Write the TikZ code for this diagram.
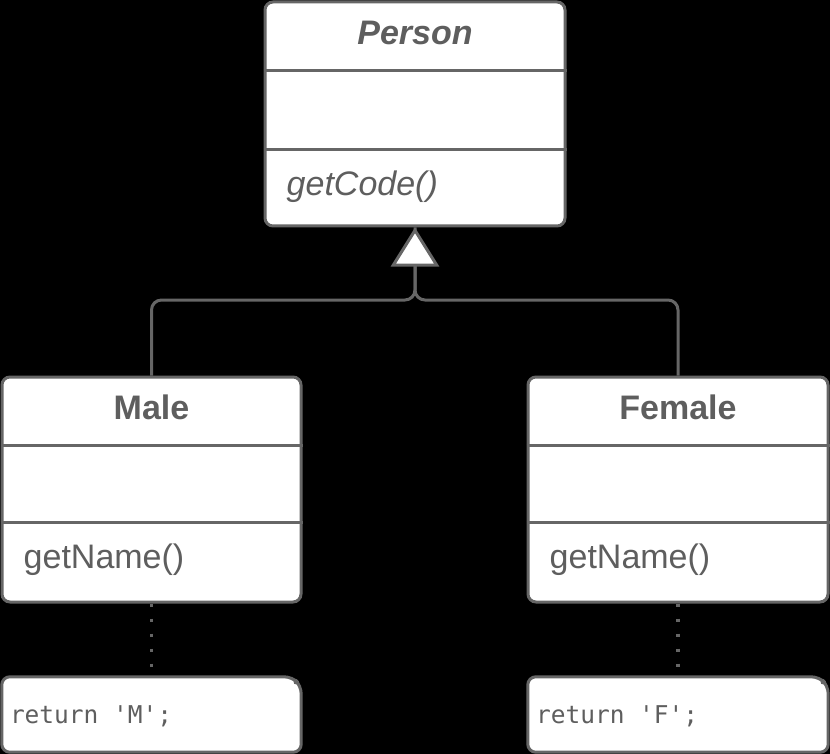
\documentclass[tikz,border=0pt]{standalone}
\usepackage{fontspec}
\setmainfont{Liberation Sans}
\setmonofont{DejaVu Sans Mono}
\usepackage{tikz}
\usetikzlibrary{arrows.meta}
\definecolor{umlgray}{HTML}{666666}
\definecolor{umltext}{HTML}{5E5E5E}

\begin{document}
\begin{tikzpicture}[x=1pt,y=-1pt]
\tikzstyle{every node}+=[inner sep=0pt]
\tikzstyle{classbox}=[draw=umlgray, line width=3pt, fill=white, rounded corners=8pt]
\tikzstyle{divider}=[draw=umlgray, line width=3pt]
\tikzstyle{umltxt}=[text=umltext, font=\fontsize{34}{40}\selectfont]
\tikzstyle{codetxt}=[text=umltext, font=\ttfamily\fontsize{24.5}{28}\selectfont]
\tikzstyle{generalize}=[draw=umlgray, line width=3pt, rounded corners=10pt]
\tikzstyle{implnote}=[draw=umlgray, line width=3.5pt, dash pattern=on 3.5pt off 11.5pt]
\fill [black] (0,0) rectangle (830,754);
\useasboundingbox (0,0) rectangle (830,754);
\node [classbox, minimum width=300, minimum height=224] (person) at (415,114) {};
\draw [divider] ([yshift=-70pt]person.north west) -- ([yshift=-70pt]person.north east);
\draw [divider] ([yshift=-149pt]person.north west) -- ([yshift=-149pt]person.north east);
\node [umltxt, font=\fontsize{34}{40}\selectfont\bfseries\itshape] (persontitle) at ([yshift=-32pt]person.north) {Person};
\node [umltxt, font=\fontsize{34}{40}\selectfont\itshape, anchor=west] (getcode) at ([xshift=23pt,yshift=-186pt]person.north west) {getCode()};
\node [classbox, minimum width=299, minimum height=225] (male) at (151.5,489.5) {};
\draw [divider] ([yshift=-70pt]male.north west) -- ([yshift=-70pt]male.north east);
\draw [divider] ([yshift=-147pt]male.north west) -- ([yshift=-147pt]male.north east);
\node [umltxt, font=\fontsize{34}{40}\selectfont\bfseries] (maletitle) at ([yshift=-32pt]male.north) {Male};
\node [umltxt, anchor=west] (malename) at ([xshift=23pt,yshift=-184pt]male.north west) {getName()};
\node [classbox, minimum width=300, minimum height=225] (female) at (678,489.5) {};
\draw [divider] ([yshift=-70pt]female.north west) -- ([yshift=-70pt]female.north east);
\draw [divider] ([yshift=-147pt]female.north west) -- ([yshift=-147pt]female.north east);
\node [umltxt, font=\fontsize{34}{40}\selectfont\bfseries] (femaletitle) at ([yshift=-32pt]female.north) {Female};
\node [umltxt, anchor=west] (femalename) at ([xshift=23pt,yshift=-184pt]female.north west) {getName()};
\coordinate (split) at (415,300);
\draw [generalize] (female.north) |- (split) -- (person.south);
\draw [generalize, -{Triangle[length=39pt, width=48pt, fill=white]}] (male.north) |- (split) -- (person.south);
\node [minimum width=299, minimum height=75] (malenote) at (151.5,714.5) {};
\draw [classbox] (malenote.south west) -- (malenote.north west) -- ([xshift=-9pt]malenote.north east) -- ([yshift=-9pt]malenote.north east) -- (malenote.south east) -- cycle;
\fill [umlgray] ([xshift=-9pt]malenote.north east) -- ([xshift=-7pt,yshift=-7pt]malenote.north east) -- ([yshift=-9pt]malenote.north east) -- cycle;
\node [codetxt, anchor=west] (malecode) at ([xshift=8pt,yshift=-2pt]malenote.west) {return 'M';};
\node [minimum width=300, minimum height=75] (femalenote) at (678,714.5) {};
\draw [classbox] (femalenote.south west) -- (femalenote.north west) -- ([xshift=-9pt]femalenote.north east) -- ([yshift=-9pt]femalenote.north east) -- (femalenote.south east) -- cycle;
\fill [umlgray] ([xshift=-9pt]femalenote.north east) -- ([xshift=-7pt,yshift=-7pt]femalenote.north east) -- ([yshift=-9pt]femalenote.north east) -- cycle;
\node [codetxt, anchor=west] (femalecode) at ([xshift=8pt,yshift=-2pt]femalenote.west) {return 'F';};
\draw [implnote] (male.south) -- (malenote.north);
\draw [implnote] (female.south) -- (femalenote.north);
\end{tikzpicture}
\end{document}
